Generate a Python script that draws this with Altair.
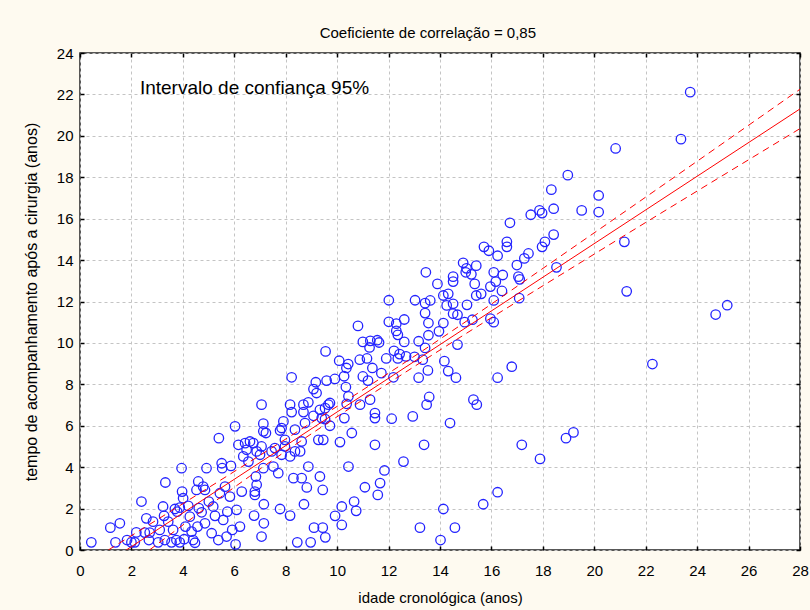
import altair as alt
import pandas as pd

# Chronological age (years) and follow-up time after surgery (years), one pair per patient
age = [
    0.44, 1.18, 1.55, 1.38, 1.83, 2.0, 2.13, 2.19, 2.39, 2.52, 2.58, 2.68, 2.71, 2.84, 3.04, 3.10,
    3.23, 3.27, 3.30, 3.32, 3.43, 3.56, 3.62, 3.69, 3.75, 3.78, 3.88, 3.88, 3.95, 3.97, 4.01, 4.05,
    4.10, 4.21, 4.27, 4.34, 4.40, 4.47, 4.53, 4.57, 4.60, 4.62, 4.73, 4.79, 4.86, 4.86, 4.92, 5.01,
    5.12, 5.18, 5.25, 5.38, 5.40, 5.44, 5.51, 5.53, 5.57, 5.64, 5.70, 5.73, 5.83, 5.87, 5.92, 6.03,
    6.05, 6.09, 6.16, 6.22, 6.29, 6.35, 6.42, 6.48, 6.55,
    7.06, 8.17, 8.23, 8.69, 8.88, 8.69, 9.08, 9.2, 9.33, 9.53, 9.66, 9.72, 9.4, 9.53, 9.72, 9.08,
    8.75, 8.36, 7.91, 7.84, 7.78, 7.13, 7.13, 7.23, 6.61, 6.74, 7.06, 6.87, 7.0, 7.45, 7.58, 7.97,
    7.97, 7.84, 8.17, 8.36, 8.56, 8.62, 9.27, 9.46, 10.11, 10.57, 10.28, 10.37, 10.44, 10.89, 11.28,
    11.47, 11.47, 12.12, 12.94, 11.47, 12.58, 10.44, 8.88, 9.33, 8.3, 8.62, 8.82, 9.44, 11.08, 11.58,
    11.67, 11.84, 7.13, 7.52, 7.71, 6.84, 6.87, 6.8, 6.8, 7.15, 7.78, 8.71, 8.17, 6.77, 7.15, 7.06,
    8.45, 8.97, 9.1, 9.44, 9.54, 9.92, 10.18, 10.18, 10.66, 10.74,
    13.58, 13.48, 15.3, 15.43, 14.39, 13.38, 17.18, 18.9, 19.19, 17.89, 16.24, 15.68, 14.13, 14.58,
    13.22, 14.02,
    21.17, 21.26, 24.72, 25.17, 22.26,
    23.73, 23.37, 20.83, 20.17, 20.17,
    18.97, 18.33, 18.42, 17.97, 17.87, 17.53, 16.72, 19.51,
    18.42, 18.08, 17.97, 16.6, 16.6, 15.71, 15.9, 16.24, 17.44, 17.28, 16.99, 18.53, 14.9, 15.03,
    15.41, 15.0, 15.22, 13.45, 14.51, 14.51, 13.9, 16.09, 16.44, 17.05, 17.1, 15.35, 16.17, 15.96,
    15.6, 15.41, 16.41, 16.09, 17.08, 14.13, 14.32, 13.62, 13.42, 14.51, 14.26, 15.05, 13.42, 14.51,
    14.68, 13.55, 14.13, 14.96, 15.26, 15.96, 16.09, 13.96, 13.55, 14.68, 13.17, 13.42, 14.17, 14.32,
    13.53, 14.62, 13.17, 16.24, 16.79,
    12.01, 13.03, 10.81, 12.01, 12.3, 12.61, 12.3, 12.36, 11.0, 11.29, 11.56, 11.63, 11.26, 12.61,
    12.21, 12.43, 9.55, 10.08, 10.43, 10.36, 10.88, 11.16, 11.91, 12.36, 12.68, 13.01, 13.33, 11.37,
    11.72, 12.19, 10.27, 11.0, 11.2, 8.23, 9.17, 9.59, 9.91, 10.34,
]
follow_up = [
    0.37, 1.08, 1.29, 0.37, 0.48, 0.37, 0.37, 0.85, 2.34, 0.84, 1.53, 0.48, 0.84, 1.37, 0.37, 0.97,
    2.10, 1.65, 0.48, 3.26, 1.37, 0.37, 0.97, 1.98, 0.48, 1.85, 2.05, 0.37, 3.95, 2.82, 2.50, 0.52,
    1.13, 2.13, 1.61, 0.89, 0.48, 0.35, 2.90, 1.13, 3.31, 2.02, 1.82, 3.06, 2.90, 1.29, 3.95, 2.34,
    0.81, 2.10, 1.65, 0.48, 5.40, 2.74, 4.19, 3.95, 1.45, 3.06, 0.65, 1.85, 2.58, 4.06, 0.97, 5.97,
    0.27, 1.94, 5.08, 1.13, 2.82, 4.52, 5.16, 4.84, 4.27,
    7.02, 7.02, 6.66, 7.02, 7.13, 6.66, 7.77, 7.58, 6.77, 6.85, 7.02, 7.1, 6.37, 6.32, 6.0, 6.48,
    6.13, 5.81, 6.21, 5.89, 5.77, 6.1, 5.73, 5.65, 5.24, 5.16, 5.0, 4.76, 4.6, 4.76, 4.92, 5.32,
    5.0, 4.6, 4.52, 4.76, 4.76, 5.24, 5.32, 5.32, 5.21, 5.65, 6.37, 7.06, 7.42, 7.02, 7.26,
    6.61, 6.37, 6.34, 6.45, 5.08, 4.27, 4.03, 4.03, 3.55, 3.47, 3.47, 3.02, 2.9, 3.03, 2.66,
    3.23, 3.84, 3.95, 4.03, 3.71, 3.55, 3.15, 2.82, 2.66, 2.21, 1.98, 2.21, 1.66, 1.66, 1.29, 0.65,
    0.37, 0.37, 1.08, 1.08, 0.61, 1.65, 2.1, 1.21, 2.34, 1.89,
    7.39, 7.02, 7.26, 7.02, 6.13, 5.08, 5.08, 5.4, 5.68, 4.4, 2.79, 2.21, 1.98, 1.08,
    1.08, 0.48,
    14.88, 12.49, 11.37, 11.82, 8.98,
    22.11, 19.84, 19.39, 17.12, 16.32,
    18.1, 17.4, 16.48, 16.27, 16.4, 16.19, 15.8, 16.4,
    15.23, 14.88, 14.64, 14.88, 14.64, 14.64, 14.45, 14.21, 14.32, 14.08, 13.76, 13.65, 13.87, 13.6,
    13.73, 13.41, 13.31, 13.41, 13.2, 12.96, 12.85, 13.41, 13.28, 13.2, 13.07, 12.85, 12.96, 12.72,
    12.37, 12.29, 12.51, 12.05, 12.16, 12.29, 12.37, 12.05, 11.92, 11.89, 11.81, 11.84, 11.44, 11.41,
    11.36, 10.96, 10.96, 11.0, 11.12, 11.17, 11.0, 10.56, 10.37, 9.92, 10.08, 9.76, 9.12, 8.64,
    8.67, 8.32, 8.32, 8.32, 8.85,
    12.06, 12.06, 10.82, 11.02, 10.93, 11.13, 10.58, 10.39, 10.05, 10.1, 10.13, 10.02, 9.78, 10.05,
    9.62, 9.46, 9.59, 9.14, 8.98, 8.79, 9.19, 9.25, 9.25, 9.25, 9.35, 9.33, 9.19, 8.79,
    8.54, 8.34, 8.39, 8.38, 8.18, 8.34, 8.1, 8.18, 8.26, 7.87,
]

# Fitted regression line and its 95% confidence limits
fit_x = [1.8, 28.0]
fit_y = [0.0, 21.3]
upper_x = [1.1, 6.6, 13.2, 19.7, 28.0]
upper_y = [0.0, 4.26, 9.52, 15.06, 22.25]
lower_x = [2.7, 6.6, 13.2, 19.7, 28.0]
lower_y = [0.0, 3.56, 9.02, 14.06, 20.35]

x_ticks = list(range(0, 29, 2))
y_ticks = list(range(0, 25, 2))
title_text = "Coeficiente de correlação = 0,85"
band_label = ["Intervalo de confiança 95%"]
band_label_x = [2.33]
band_label_y = [22.3]

points = pd.DataFrame({"age": age, "follow_up": follow_up})
fit_df = pd.DataFrame({"x": fit_x, "y": fit_y})
upper_df = pd.DataFrame({"x": upper_x, "y": upper_y})
lower_df = pd.DataFrame({"x": lower_x, "y": lower_y})

FONT = "Liberation Sans"
x_scale = alt.Scale(domain=[0, 28], nice=False, zero=False)
y_scale = alt.Scale(domain=[0, 24], nice=False, zero=False)

main_x_axis = alt.Axis(
    values=x_ticks, title="idade cronológica (anos)", grid=True, gridDash=[3, 3],
    gridColor="#c4c4c4", gridWidth=1, ticks=False, domain=False, labelFlush=False,
    labelFontSize=15, labelPadding=13, labelColor="#000", titleFontSize=15,
    titleFontWeight="normal", titlePadding=12, titleColor="#000",
)
main_y_axis = alt.Axis(
    values=y_ticks, title="tempo de acompanhamento após a cirurgia (anos)", grid=True,
    gridDash=[3, 3], gridColor="#c4c4c4", gridWidth=1, ticks=False, domain=False,
    labelFlush=False, labelFontSize=15, labelPadding=7, labelColor="#000", titleFontSize=16,
    titleFontWeight="normal", titlePadding=17, titleColor="#000",
)


def tick_axis(orient, values):
    # tick marks only, pulled inside the frame
    return alt.Axis(
        orient=orient, values=values, labels=False, grid=False, domain=False, ticks=True,
        tickSize=4, tickColor="#000", tickWidth=1.5, offset=-4, title=None,
    )


pts = alt.Chart(points).mark_point(
    shape="circle", filled=False, size=90, strokeWidth=1.3, color="#2323ff", opacity=1
).encode(
    x=alt.X("age:Q", scale=x_scale, axis=main_x_axis),
    y=alt.Y("follow_up:Q", scale=y_scale, axis=main_y_axis),
)

fit_line = alt.Chart(fit_df).mark_line(color="#ff0000", strokeWidth=1, clip=True).encode(
    x=alt.X("x:Q", scale=x_scale, axis=tick_axis("top", x_ticks)),
    y=alt.Y("y:Q", scale=y_scale, axis=tick_axis("right", y_ticks)),
)

upper = alt.Chart(upper_df).mark_line(
    color="#ff0000", strokeWidth=1, strokeDash=[7, 5], clip=True, interpolate="monotone"
).encode(
    x=alt.X("x:Q", scale=x_scale, axis=tick_axis("bottom", x_ticks)),
    y=alt.Y("y:Q", scale=y_scale, axis=tick_axis("left", y_ticks)),
)

lower = alt.Chart(lower_df).mark_line(
    color="#ff0000", strokeWidth=1, strokeDash=[7, 5], clip=True, interpolate="monotone"
).encode(
    x=alt.X("x:Q", scale=x_scale, axis=None),
    y=alt.Y("y:Q", scale=y_scale, axis=None),
)

label = alt.Chart(
    pd.DataFrame({"text": band_label, "x": band_label_x, "y": band_label_y})
).mark_text(align="left", baseline="middle", fontSize=19, font=FONT, color="#000").encode(
    x=alt.X("x:Q", scale=x_scale, axis=None),
    y=alt.Y("y:Q", scale=y_scale, axis=None),
    text="text:N",
)

chart = (
    alt.layer(pts, fit_line, upper, lower, label)
    .resolve_axis(x="independent", y="independent")
    .properties(
        width=720,
        height=497,
        autosize=alt.AutoSizeParams(type="none"),
        padding={"left": 80, "top": 53, "right": 10, "bottom": 60},
        background="#fefaf0",
        title=alt.TitleParams(
            title_text, fontSize=15, font=FONT, fontWeight="normal", color="#000",
            anchor="middle", frame="bounds", offset=5, dx=12,
        ),
    )
    .configure(font=FONT)
    .configure_view(fill="#ffffff", stroke="#222222", strokeWidth=1.5)
)

chart.save("out.html", embed_options={"renderer": "svg", "actions": False})
